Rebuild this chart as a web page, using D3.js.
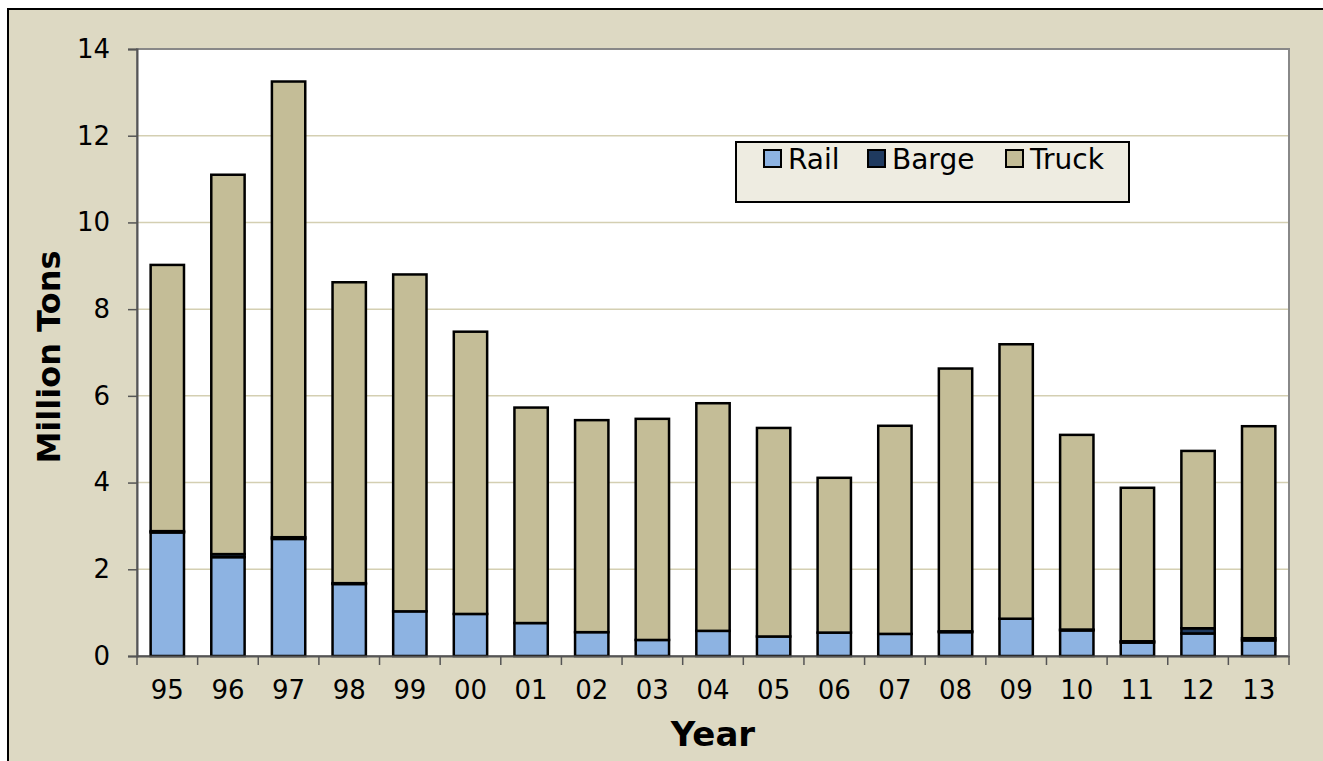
<!DOCTYPE html>
<html>
<head>
<meta charset="utf-8">
<script src="https://cdn.jsdelivr.net/npm/d3@7"></script>
<style>
  html, body { margin: 0; padding: 0; background: #fff; }
  svg { display: block; font-family: "DejaVu Sans", Verdana, sans-serif; }
</style>
</head>
<body>
<svg id="chart" width="1323" height="761"></svg>
<script>
const years = ["95", "96", "97", "98", "99", "00", "01", "02", "03", "04",
  "05", "06", "07", "08", "09", "10", "11", "12", "13"];
const rail = [2.85, 2.28, 2.70, 1.66, 1.03, 0.97, 0.76, 0.55, 0.37, 0.58,
  0.45, 0.54, 0.51, 0.55, 0.86, 0.59, 0.31, 0.52, 0.36];
const barge = [0.03, 0.07, 0.04, 0.02, 0.00, 0.00, 0.00, 0.00, 0.00, 0.00,
  0.00, 0.00, 0.00, 0.02, 0.00, 0.02, 0.03, 0.12, 0.05];
const truck = [6.14, 8.75, 10.51, 6.94, 7.77, 6.51, 4.97, 4.89, 5.10, 5.25,
  4.81, 3.57, 4.80, 6.06, 6.33, 4.49, 3.54, 4.09, 4.89];
const yTicks = [0, 2, 4, 6, 8, 10, 12, 14];
const seriesNames = ["Rail", "Barge", "Truck"];
const seriesColors = ["#8db3e2", "#1f3a5f", "#c4bd97"];

const svg = d3.select("#chart");
const margin = { left: 137, top: 49, right: 1289, bottom: 656 };

// chart area background + border (cut off at right/bottom like the original)
svg.append("rect")
  .attr("x", 8).attr("y", 9)
  .attr("width", 1400).attr("height", 800)
  .attr("fill", "#ddd9c3")
  .attr("stroke", "#000").attr("stroke-width", 2);

const x = d3.scaleBand()
  .domain(years)
  .range([margin.left, margin.right])
  .paddingInner(0.45)
  .paddingOuter(0.225);

const y = d3.scaleLinear()
  .domain([0, 14])
  .range([margin.bottom, margin.top]);

// plot area
svg.append("rect")
  .attr("x", margin.left).attr("y", margin.top)
  .attr("width", margin.right - margin.left)
  .attr("height", margin.bottom - margin.top)
  .attr("fill", "#fff");

// gridlines
svg.append("g")
  .selectAll("line")
  .data(yTicks.filter(d => d > 0 && d < 14))
  .join("line")
  .attr("x1", margin.left).attr("x2", margin.right)
  .attr("y1", d => y(d)).attr("y2", d => y(d))
  .attr("stroke", "#d4cfb2").attr("stroke-width", 1.5);

// plot border
svg.append("rect")
  .attr("x", margin.left).attr("y", margin.top)
  .attr("width", margin.right - margin.left)
  .attr("height", margin.bottom - margin.top)
  .attr("fill", "none")
  .attr("stroke", "#888").attr("stroke-width", 2);

const table = years.map((yr, i) => ({ year: yr, Rail: rail[i], Barge: barge[i], Truck: truck[i] }));
const stacked = d3.stack().keys(seriesNames)(table);

svg.append("g")
  .selectAll("g")
  .data(stacked)
  .join("g")
  .attr("fill", (d, i) => seriesColors[i])
  .selectAll("rect")
  .data(d => d)
  .join("rect")
  .attr("x", d => x(d.data.year))
  .attr("width", x.bandwidth())
  .attr("y", d => y(d[1]))
  .attr("height", d => y(d[0]) - y(d[1]))
  .attr("stroke", "#000")
  .attr("stroke-width", 2.5);

// y axis
const yAxis = svg.append("g")
  .attr("transform", `translate(${margin.left},0)`)
  .call(d3.axisLeft(y).tickValues(yTicks).tickSize(9).tickPadding(18).tickFormat(d3.format("d")));
yAxis.select(".domain").attr("stroke", "#555").attr("stroke-width", 2);
yAxis.selectAll(".tick line").attr("stroke", "#555").attr("stroke-width", 1.5);
yAxis.selectAll("text").attr("font-size", 26).attr("fill", "#000")
  .attr("font-family", "DejaVu Sans, sans-serif");

// x axis: labels centred, ticks on band boundaries
const xAxis = svg.append("g")
  .attr("transform", `translate(0,${margin.bottom})`)
  .call(d3.axisBottom(x).tickSize(0).tickPadding(25));
xAxis.select(".domain").attr("stroke", "#555").attr("stroke-width", 2);
xAxis.selectAll("text").attr("font-size", 26).attr("fill", "#000")
  .attr("font-family", "DejaVu Sans, sans-serif");

const step = x.step();
svg.append("g")
  .selectAll("line")
  .data(d3.range(years.length + 1))
  .join("line")
  .attr("x1", i => margin.left + i * step)
  .attr("x2", i => margin.left + i * step)
  .attr("y1", margin.bottom).attr("y2", margin.bottom + 9)
  .attr("stroke", "#555").attr("stroke-width", 1.5);

// axis titles
svg.append("text")
  .attr("x", (margin.left + margin.right) / 2)
  .attr("y", 746)
  .attr("text-anchor", "middle")
  .attr("font-size", 34).attr("font-weight", "bold")
  .text("Year");

svg.append("text")
  .attr("transform", `translate(60,357) rotate(-90)`)
  .attr("text-anchor", "middle")
  .attr("font-size", 32).attr("font-weight", "bold")
  .text("Million Tons");

// legend
const legend = svg.append("g");
legend.append("rect")
  .attr("x", 736).attr("y", 142)
  .attr("width", 393).attr("height", 60)
  .attr("fill", "#eeece1")
  .attr("stroke", "#000").attr("stroke-width", 2);

const legendX = [764, 868, 1006];
const item = legend.selectAll("g.item")
  .data(seriesNames)
  .join("g")
  .attr("class", "item")
  .attr("transform", (d, i) => `translate(${legendX[i]},150)`);
item.append("rect")
  .attr("width", 17).attr("height", 17)
  .attr("fill", (d, i) => seriesColors[i])
  .attr("stroke", "#000").attr("stroke-width", 2);
item.append("text")
  .attr("x", 24).attr("y", 19)
  .attr("font-size", 28)
  .text(d => d);
</script>
</body>
</html>
